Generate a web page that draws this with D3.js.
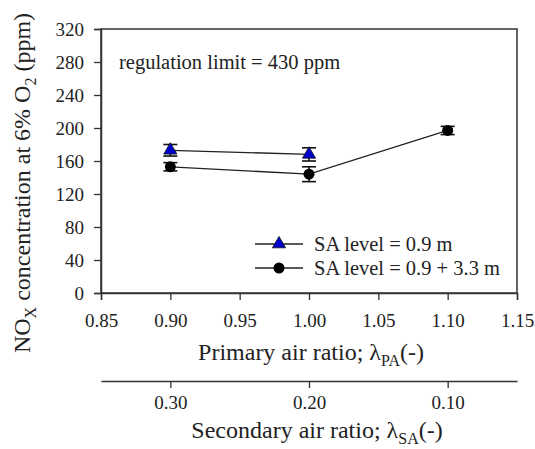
<!DOCTYPE html>
<html><head><meta charset="utf-8">
<script src="https://cdn.jsdelivr.net/npm/d3@7"></script>
<style>body{margin:0;background:#fff}svg{display:block}svg text{font-family:"Liberation Serif","Times New Roman",Times,"DejaVu Serif","Noto Serif",serif !important;fill:#222}</style>
</head><body>
<script>
const xTicks = [0.85, 0.90, 0.95, 1.00, 1.05, 1.10, 1.15];
const yTicks = [0, 40, 80, 120, 160, 200, 240, 280, 320];
const saTicks = [0.90, 1.00, 1.10];
const saLabels = ["0.30", "0.20", "0.10"];
const triX = [0.90, 1.00];
const triY = [173, 168];
const triErr = [7, 8];
const cirX = [0.90, 1.00, 1.10];
const cirY = [153, 144, 197];
const cirErr = [5, 9, 5];
const legendLabels = ["SA level = 0.9 m", "SA level = 0.9 + 3.3 m"];

const W = 535, H = 449;
const L = 101, R = 517, T = 29, B = 293;
const FF = '"Liberation Serif","Times New Roman",Times,"DejaVu Serif",serif';
const svg = d3.select("body").append("svg").attr("width", W).attr("height", H).attr("font-family", FF);
const x = d3.scaleLinear().domain([0.85, 1.15]).range([L, R]);
const y = d3.scaleLinear().domain([0, 320]).range([B, T]);
const col = "#333";

svg.append("rect").attr("x", L).attr("y", T).attr("width", R - L).attr("height", B - T)
  .attr("fill", "none").attr("stroke", col).attr("stroke-width", 1.5);

const fmt2 = d3.format(".2f");
const gx = svg.append("g").attr("transform", `translate(0,${B})`)
  .call(d3.axisBottom(x).tickValues(xTicks).tickFormat(fmt2).tickSize(7).tickPadding(14));
const gy = svg.append("g").attr("transform", `translate(${L},0)`)
  .call(d3.axisLeft(y).tickValues(yTicks).tickSize(7).tickPadding(10));
[gx, gy].forEach(g => {
  g.attr("font-family", FF);
  g.select(".domain").attr("stroke", col).attr("stroke-width", 1.5);
  g.selectAll(".tick line").attr("stroke", col).attr("stroke-width", 1.3);
  g.selectAll("text").attr("font-size", 19).attr("fill", "#222");
});

const gs = svg.append("g").attr("transform", `translate(0,381)`)
  .call(d3.axisBottom(x).tickValues(saTicks).tickFormat((d, i) => saLabels[i]).tickSize(7).tickSizeOuter(0).tickPadding(8));
gs.attr("font-family", FF);
gs.select(".domain").attr("stroke", col).attr("stroke-width", 1.5);
gs.selectAll(".tick line").attr("stroke", col).attr("stroke-width", 1.3);
gs.selectAll("text").attr("font-size", 19).attr("fill", "#333");

const xt = svg.append("text").attr("x", 311).attr("y", 360).attr("text-anchor", "middle").attr("font-size", 24);
xt.append("tspan").text("Primary air ratio; λ");
xt.append("tspan").attr("font-size", 16).attr("dy", 6).text("PA");
xt.append("tspan").attr("dy", -6).text("(-)");

const st = svg.append("text").attr("x", 317).attr("y", 438).attr("text-anchor", "middle").attr("font-size", 24);
st.append("tspan").text("Secondary air ratio; λ");
st.append("tspan").attr("font-size", 16).attr("dy", 6).text("SA");
st.append("tspan").attr("dy", -6).text("(-)");

const yt = svg.append("text").attr("transform", `translate(30,183) rotate(-90)`).attr("text-anchor", "middle").attr("font-size", 24);
yt.append("tspan").text("NO");
yt.append("tspan").attr("font-size", 16).attr("dy", 6).text("X");
yt.append("tspan").attr("dy", -6).text(" concentration at 6% O");
yt.append("tspan").attr("font-size", 16).attr("dy", 6).text("2");
yt.append("tspan").attr("dy", -6).text(" (ppm)");

svg.append("text").attr("x", 119).attr("y", 69).attr("font-size", 20.5).text("regulation limit = 430 ppm");

const line = d3.line().x(d => x(d[0])).y(d => y(d[1]));
const triData = triX.map((v, i) => [v, triY[i], triErr[i]]);
const cirData = cirX.map((v, i) => [v, cirY[i], cirErr[i]]);
[triData, cirData].forEach(d => svg.append("path").attr("d", line(d)).attr("fill", "none").attr("stroke", "#222").attr("stroke-width", 1.3));

function errs(data) {
  const g = svg.append("g").attr("stroke", "#111").attr("stroke-width", 1.6);
  data.forEach(d => {
    const cx = x(d[0]);
    g.append("line").attr("x1", cx).attr("x2", cx).attr("y1", y(d[1] - d[2])).attr("y2", y(d[1] + d[2]));
    [d[1] - d[2], d[1] + d[2]].forEach(v => g.append("line").attr("x1", cx - 7).attr("x2", cx + 7).attr("y1", y(v)).attr("y2", y(v)));
  });
}
errs(triData); errs(cirData);

const triSym = d3.symbol().type(d3.symbolTriangle).size(75);
function tri(cx, cy) {
  svg.append("path").attr("d", triSym()).attr("transform", `translate(${cx},${cy})`)
    .attr("fill", "#0000cc").attr("stroke", "#111").attr("stroke-width", 0.8);
}
function cir(cx, cy) {
  svg.append("circle").attr("cx", cx).attr("cy", cy).attr("r", 5.5).attr("fill", "#000");
}
triData.forEach(d => tri(x(d[0]), y(d[1])));
cirData.forEach(d => cir(x(d[0]), y(d[1])));

const ly = [244, 268];
legendLabels.forEach((t, i) => {
  svg.append("line").attr("x1", 255).attr("x2", 303).attr("y1", ly[i]).attr("y2", ly[i]).attr("stroke", "#222").attr("stroke-width", 1.3);
  if (i === 0) tri(279, ly[i]); else cir(279, ly[i]);
  svg.append("text").attr("x", 314).attr("y", ly[i] + 7).attr("font-size", 20.5).text(t);
});
</script>
</body></html>
